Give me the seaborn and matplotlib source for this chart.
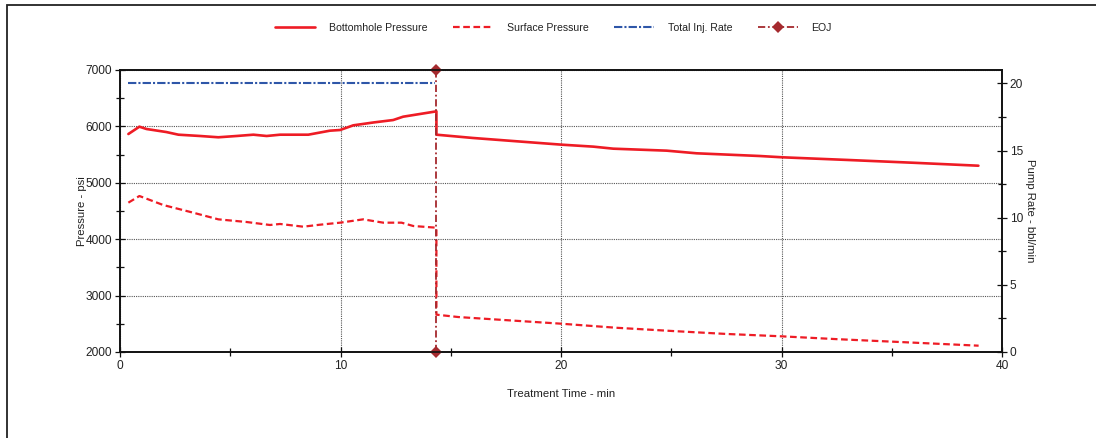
import numpy as np
import pandas as pd
import matplotlib
matplotlib.use("Agg")
import matplotlib.pyplot as plt
from matplotlib.lines import Line2D
from matplotlib.patches import Rectangle
from matplotlib.ticker import MultipleLocator
import seaborn as sns

# ---------------- data ----------------
bh_time = [0.38, 0.88, 1.2, 2.1, 2.65, 3.63, 4.46, 5.29, 6.05, 6.65, 7.26, 8.54,
           9.52, 9.98, 10.58, 11.5, 12.39, 12.84, 14.35, 14.35, 16.0, 17.99, 20.03,
           21.47, 22.37, 24.79, 26.15, 29.02, 30.04, 33.0, 36.0, 38.93]
bh_pres = [5865, 5995, 5954, 5900, 5853, 5830, 5807, 5830, 5853, 5830, 5853, 5853,
           5924, 5936, 6019, 6070, 6113, 6172, 6267, 5853, 5795, 5736, 5676,
           5641, 5605, 5570, 5523, 5475, 5452, 5405, 5355, 5303]

sp_time = [0.38, 0.88, 1.96, 3.32, 4.46, 5.74, 6.8, 7.26, 8.31, 9.07, 9.98, 11.03,
           11.94, 12.77, 13.3, 14.35, 14.35, 15.34, 17.5, 20.0, 22.5, 25.06, 27.5,
           30.0, 32.5, 35.1, 38.94]
sp_pres = [4648, 4766, 4606, 4470, 4352, 4305, 4252, 4270, 4222, 4257, 4293, 4352,
           4293, 4293, 4234, 4204, 2662, 2620, 2565, 2502, 2430, 2372, 2320,
           2278, 2228, 2182, 2112]

rate_time = [0.38, 14.3]
rate_vals = [20, 20]

eoj_time = [14.35, 14.35]
eoj_vals = [0, 21]

legend_labels = ["Bottomhole Pressure", "Surface Pressure", "Total Inj. Rate", "EOJ"]

# ---------------- style ----------------
sns.set_theme(style="white")
plt.rcParams["font.family"] = ["Liberation Sans", "DejaVu Sans"]
plt.rcParams["font.size"] = 8

RED = "#ee1c25"
BLUE = "#2e56a8"
DRED = "#a52a2e"

fig = plt.figure(figsize=(10.96, 4.38), dpi=100)
ax = fig.add_axes([120 / 1096, 1 - 352 / 438, 882 / 1096, 282 / 438])
ax2 = ax.twinx()

bh_df = pd.DataFrame({"t": bh_time, "p": bh_pres})
sp_df = pd.DataFrame({"t": sp_time, "p": sp_pres})
rate_df = pd.DataFrame({"t": rate_time, "r": rate_vals})
eoj_df = pd.DataFrame({"t": eoj_time, "r": eoj_vals})

sns.lineplot(data=bh_df, x="t", y="p", ax=ax, color=RED, linewidth=1.9,
             estimator=None, sort=False, legend=False)
sns.lineplot(data=sp_df, x="t", y="p", ax=ax, color=RED, linewidth=1.6,
             linestyle=(0, (3, 1.6)), estimator=None, sort=False, legend=False)
sns.lineplot(data=rate_df, x="t", y="r", ax=ax2, color=BLUE, linewidth=1.5,
             linestyle=(0, (4, 1, 1, 1)), estimator=None, sort=False, legend=False)
sns.lineplot(data=eoj_df, x="t", y="r", ax=ax2, color=DRED, linewidth=1.3,
             linestyle=(0, (4, 1.5, 1, 1.5)), marker="D", markersize=6,
             markeredgewidth=0, estimator=None, sort=False, legend=False)
for l in ax2.lines:
    l.set_clip_on(False)

# ---------------- axes ----------------
ax.set_xlim(0, 40)
ax.set_ylim(2000, 7000)
ax2.set_ylim(0, 21)

ax.xaxis.set_major_locator(MultipleLocator(10))
ax.xaxis.set_minor_locator(MultipleLocator(5))
ax.yaxis.set_major_locator(MultipleLocator(1000))
ax.yaxis.set_minor_locator(MultipleLocator(500))
ax2.yaxis.set_major_locator(MultipleLocator(5))
ax2.yaxis.set_minor_locator(MultipleLocator(2.5))

for a in (ax, ax2):
    for s in a.spines.values():
        s.set_color("#111111")
        s.set_linewidth(1.2)
    a.tick_params(which="major", direction="inout", length=7, width=0.9,
                  color="#111111", labelsize=8.6, labelcolor="#222222", pad=2)
    a.tick_params(which="minor", direction="inout", length=6, width=0.9,
                  color="#111111")

ax.tick_params(axis="x", which="both", bottom=True, top=False)
ax.tick_params(axis="y", which="both", left=True, right=False)
ax2.tick_params(axis="y", which="both", left=False, right=True)

ax.grid(True, which="major", color="#555555", linestyle=(0, (1, 1)), linewidth=0.8)
ax2.grid(False)

ax.set_xlabel("Treatment Time - min", fontsize=8.2, color="#222222")
ax.set_ylabel("Pressure - psi", fontsize=8.2, color="#222222")
ax2.set_ylabel("Pump Rate - bbl/min", fontsize=8.2, color="#222222",
               rotation=270, va="bottom")
ax.xaxis.set_label_coords(0.5, -0.13)
ax.yaxis.set_label_coords(-0.037, 0.5)
ax2.yaxis.set_label_coords(1.026, 0.5)

# ---------------- legend ----------------
handles = [
    Line2D([], [], color=RED, linewidth=1.9),
    Line2D([], [], color=RED, linewidth=1.6, linestyle=(0, (3, 1.6))),
    Line2D([], [], color=BLUE, linewidth=1.5, linestyle=(0, (4, 1, 1, 1))),
    Line2D([], [], color=DRED, linewidth=1.3, linestyle=(0, (4, 1.5, 1, 1.5)),
           marker="D", markersize=6, markeredgewidth=0),
]
fig.legend(handles, legend_labels, loc="center", ncol=4, frameon=False,
           bbox_to_anchor=(0.505, 1 - 28 / 438), fontsize=7.6, handlelength=3.8,
           handletextpad=1.3, columnspacing=2.4, labelcolor="#222222")

# outer frame
fig.patches.append(Rectangle((7 / 1096, -0.2), 1.5, 1.2 - 5 / 438,
                             transform=fig.transFigure, fill=False,
                             edgecolor="#222222", linewidth=1.3))

fig.savefig("out.png", dpi=100)
